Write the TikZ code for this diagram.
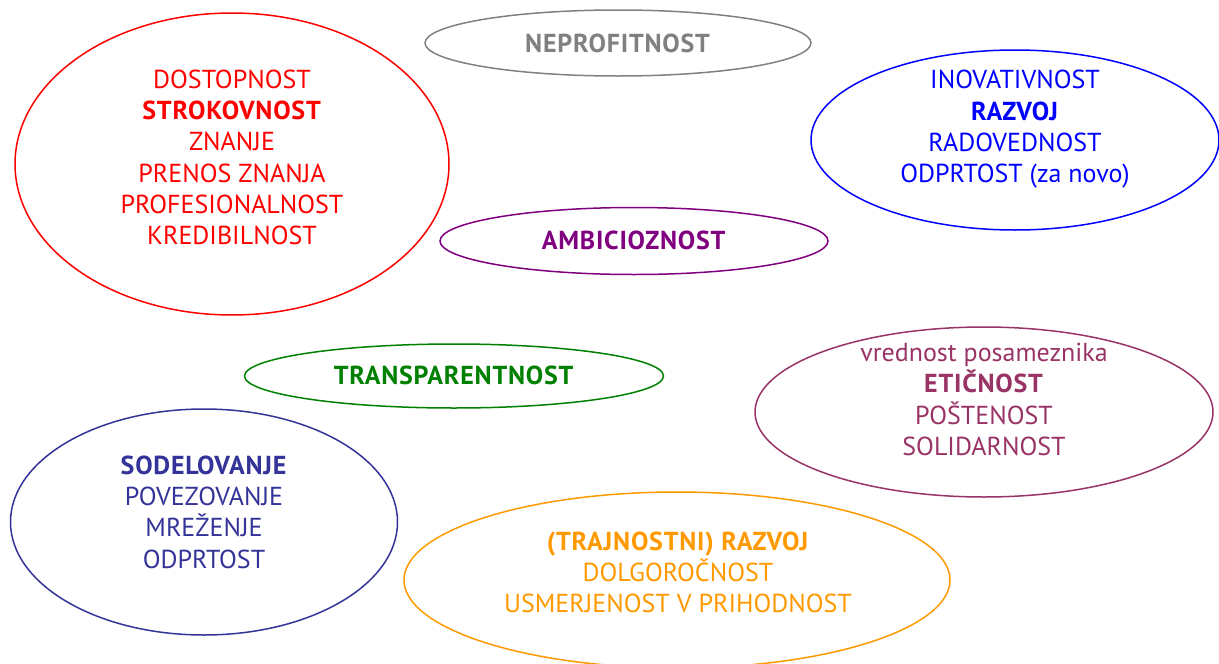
\documentclass[tikz,border=0pt]{standalone}
\usepackage{fontspec}
\setmainfont{PT Sans}
\usetikzlibrary{shapes.geometric}
\definecolor{cred}{HTML}{FF0000}
\definecolor{cgray}{HTML}{808080}
\definecolor{cblue}{HTML}{0000FF}
\definecolor{cpurple}{HTML}{800080}
\definecolor{cgreen}{HTML}{008000}
\definecolor{cmaroon}{HTML}{993366}
\definecolor{cnavy}{HTML}{333399}
\definecolor{corange}{HTML}{FF9900}
\newcommand{\bx}[1]{\textbf{\addfontfeatures{LetterSpace=3}#1}}
\tikzset{
  oval/.style={draw=#1, ellipse, line width=1.5pt, inner sep=0pt},
  label text/.style={text=#1, align=center, inner sep=0pt, font=\fontsize{26}{31.3}\selectfont},
}
\begin{document}
\begin{tikzpicture}[x=1pt,y=-1pt]
\useasboundingbox (0,0) rectangle (1219,664);
% red
\node[oval=cred, minimum width=434pt, minimum height=302pt] (redE) at (232,164) {};
\node[label text=cred] (redT) at (232,157.5) {DOSTOPNOST\\\bx{STROKOVNOST}\\ZNANJE\\PRENOS ZNANJA\\PROFESIONALNOST\\KREDIBILNOST};
% gray
\node[oval=cgray, minimum width=386pt, minimum height=66pt] (grayE) at (618,43) {};
\node[label text=cgray] (grayT) at (618,43) {\bx{NEPROFITNOST}};
% blue
\node[oval=cblue, minimum width=408pt, minimum height=180pt] (blueE) at (1015,140) {};
\node[label text=cblue] (blueT) at (1015,129.5) {INOVATIVNOST\\\bx{RAZVOJ}\\RADOVEDNOST\\ODPRTOST (za novo)};
% purple
\node[oval=cpurple, minimum width=388pt, minimum height=67pt] (purpleE) at (634,241) {};
\node[label text=cpurple] (purpleT) at (634,240) {\bx{AMBICIOZNOST}};
% green
\node[oval=cgreen, minimum width=419pt, minimum height=64pt] (greenE) at (454,376) {};
\node[label text=cgreen] (greenT) at (454,375) {\bx{TRANSPARENTNOST}};
% maroon
\node[oval=cmaroon, minimum width=458pt, minimum height=170pt] (maroonE) at (984,412) {};
\node[label text=cmaroon] (maroonT) at (984,399.5) {vrednost posameznika\\\bx{ETIČNOST}\\POŠTENOST\\SOLIDARNOST};
% navy
\node[oval=cnavy, minimum width=387pt, minimum height=226pt] (navyE) at (204,522) {};
\node[label text=cnavy] (navyT) at (204,512) {\bx{SODELOVANJE}\\POVEZOVANJE\\MREŽENJE\\ODPRTOST};
% orange
\node[oval=corange, minimum width=546pt, minimum height=176pt] (orangeE) at (677,580) {};
\node[label text=corange] (orangeT) at (678,572.5) {\bx{(TRAJNOSTNI) RAZVOJ}\\DOLGOROČNOST\\USMERJENOST V PRIHODNOST};
\end{tikzpicture}
\end{document}
